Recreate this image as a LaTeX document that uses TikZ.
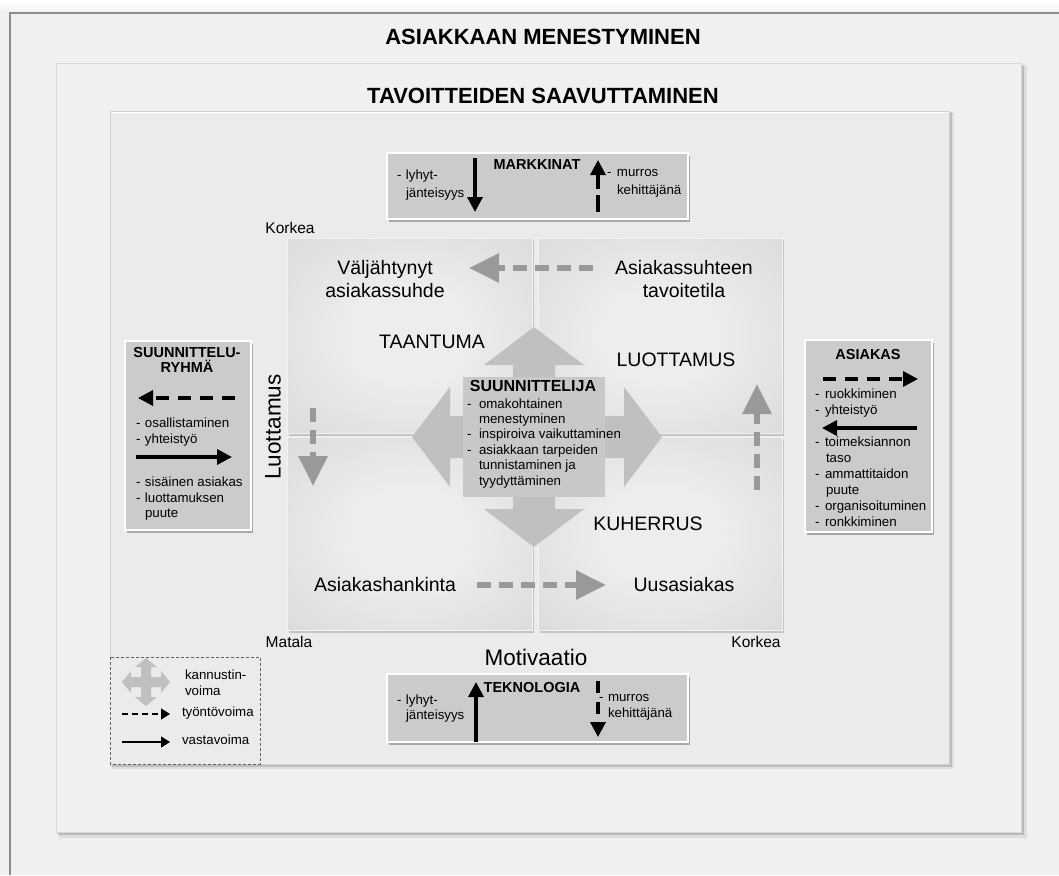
\documentclass[tikz,border=0pt]{standalone}
\usepackage{fontspec}
\setmainfont{Liberation Sans}
\usetikzlibrary{arrows.meta,shadows}

\definecolor{pagebg}{HTML}{F0F0F0}
\definecolor{innerbg}{HTML}{EBEBEB}
\definecolor{framegray}{HTML}{8C8C8C}
\definecolor{panelfill}{HTML}{CBCBCB}
\definecolor{crossfill}{HTML}{C0C0C0}
\definecolor{crossbox}{HTML}{C8C8C8}
\definecolor{flowgray}{HTML}{999999}
\definecolor{qin}{HTML}{EDEDED}
\definecolor{qout}{HTML}{BEBEBE}
\definecolor{legendline}{HTML}{6B6347}

\pgfdeclareradialshading{quadshade}{\pgfpoint{0bp}{0bp}}{color(0bp)=(qin); color(12bp)=(qin); color(75bp)=(qout)}

% list helpers: a dash in a fixed-width box, and an indented continuation line
\newcommand{\dashitem}[2][9pt]{\makebox[#1][l]{-}#2}
\newcommand{\dashcont}[2][9pt]{\hspace*{#1}#2}

\tikzset{
  every node/.style={inner sep=0pt, outer sep=0pt},
  maintitle/.style={font=\bfseries\fontsize{22}{26}\selectfont},
  quadlabel/.style={font=\fontsize{19.5}{23}\selectfont, align=center},
  axislabel/.style={font=\fontsize{22.5}{26}\selectfont},
  scalelabel/.style={font=\fontsize{15.5}{18}\selectfont},
  paneltitle/.style={font=\bfseries\fontsize{14.5}{15}\selectfont, align=center},
  listtext/.style={font=\fontsize{13.3}{16}\selectfont, align=left, anchor=north west},
  panel/.style={fill=panelfill, draw=white, line width=1.2pt,
    drop shadow={shadow xshift=2pt, shadow yshift=-2.5pt, fill=black, opacity=0.28}},
  force/.style={line width=3.4pt, -{Triangle[length=15pt,width=15pt]}},
  push/.style={force, dash pattern=on 13pt off 9pt},
  flow/.style={draw=flowgray, line width=6pt, dash pattern=on 14pt off 8pt,
    -{Triangle[length=30pt,width=28pt,fill=flowgray]}},
  legforce/.style={line width=1.6pt, -{Triangle[length=9pt,width=11pt]}},
  legpush/.style={legforce, dash pattern=on 6pt off 4pt},
}

\begin{document}
\begin{tikzpicture}[x=1pt,y=-1pt]
\useasboundingbox (0,0) rectangle (1059,875);

% page and outer frame
\fill[pagebg] (0,0) rectangle (1059,875);
\shade[top color=white, bottom color=pagebg] (0,0) rectangle (1059,13);
\draw[framegray, line width=1.5pt] (10,875) -- (10,13) -- (1059,13);
\node[maintitle] (outerTitle) at (543,37) {ASIAKKAAN MENESTYMINEN};

% middle frame
\fill[black, opacity=0.08] (59,66) rectangle (1027,838);
\fill[black, opacity=0.16] (58,65) rectangle (1024,835);
\filldraw[fill=pagebg, draw=gray!30, line width=1pt] (56,63) rectangle (1021,832);
\node[maintitle] (middleTitle) at (543,96) {TAVOITTEIDEN SAAVUTTAMINEN};

% inner frame
\fill[black, opacity=0.08] (112,113) rectangle (954,769);
\fill[black, opacity=0.14] (111,112) rectangle (952,767);
\filldraw[fill=innerbg, draw=gray!35, line width=1pt] (110,111) rectangle (949,764);
\draw[white, line width=1.5pt] (111.5,112.5) -- (947.5,112.5);

% four quadrants
\foreach \xa/\ya/\xb/\yb in {287/238/532/433, 538/238/782/433, 287/437/532/630, 538/437/782/630}{
  \fill[black, opacity=0.16] (\xa+2,\ya+2) rectangle (\xb+2,\yb+2.5);
  \shade[shading=quadshade] (\xa,\ya) rectangle (\xb,\yb);
  \draw[white!90!gray, line width=1pt] (\xa,\ya) rectangle (\xb,\yb);
}

% quadrant texts
\node[quadlabel] (stale) at (385,279) {Väljähtynyt\\asiakassuhde};
\node[quadlabel] (target) at (684,279) {Asiakassuhteen\\tavoitetila};
\node[quadlabel] (recession) at (432,342) {TAANTUMA};
\node[quadlabel] (trust) at (676,360) {LUOTTAMUS};
\node[quadlabel] (honeymoon) at (648,524) {KUHERRUS};
\node[quadlabel] (acquisition) at (385,585) {Asiakashankinta};
\node[quadlabel] (newcustomer) at (684,585) {Uusasiakas};

% axes
\node[scalelabel] (highTrust) at (290,228) {Korkea};
\node[scalelabel] (low) at (289,642) {Matala};
\node[scalelabel] (highMotivation) at (756,642) {Korkea};
\node[axislabel] (motivation) at (536,657) {Motivaatio};
\node[axislabel, rotate=90] (trustAxis) at (273,427) {Luottamus};

% gray flows between quadrants
\coordinate (flowTopTail) at (593,268);  \coordinate (flowTopTip) at (469,268);
\coordinate (flowLeftTail) at (313,408); \coordinate (flowLeftTip) at (313,486);
\coordinate (flowRightTail) at (757,490); \coordinate (flowRightTip) at (757,384);
\coordinate (flowBotTail) at (477,585);  \coordinate (flowBotTip) at (606,585);
\draw[flow] (flowTopTail) -- (flowTopTip);
\draw[flow] (flowLeftTail) -- (flowLeftTip);
\draw[flow] (flowRightTail) -- (flowRightTip);
\draw[flow] (flowBotTail) -- (flowBotTip);

% four-way driving force in the centre
\fill[crossfill] (534,327) -- (584,365) -- (555,365) -- (555,416) -- (624,416) -- (624,387)
  -- (662,437) -- (624,487) -- (624,458) -- (555,458) -- (555,509) -- (584,509)
  -- (534,547) -- (484,509) -- (513,509) -- (513,458) -- (450,458) -- (450,487)
  -- (412,437) -- (450,387) -- (450,416) -- (513,416) -- (513,365) -- (484,365) -- cycle;
\node[fill=crossbox, minimum width=142pt, minimum height=120pt] (designer) at (534,437) {};
\node[font=\bfseries\fontsize{16}{18}\selectfont] (designerTitle) at (533,386) {SUUNNITTELIJA};
\node[listtext, font=\fontsize{13.3}{15.4}\selectfont] (designerList) at (467,398.5)
  {\dashitem[12pt]{omakohtainen}\\\dashcont[12pt]{menestyminen}\\\dashitem[12pt]{inspiroiva vaikuttaminen}\\
   \dashitem[12pt]{asiakkaan tarpeiden}\\\dashcont[12pt]{tunnistaminen ja}\\\dashcont[12pt]{tyydyttäminen}};

% MARKKINAT panel
\path[panel] (387,153) rectangle (688,219);
\node[paneltitle] (markets) at (537,165) {MARKKINAT};
\node[listtext, font=\fontsize{13.3}{18}\selectfont] (marketsShort) at (397,169.5) {\dashitem{lyhyt-}\\\dashcont{jänteisyys}};
\node[listtext, font=\fontsize{13.3}{18}\selectfont] (marketsBreak) at (607,169.5) {\dashitem[10pt]{murros}\\\dashcont[10pt]{kehittäjänä}};
\coordinate (mkA) at (475,158); \coordinate (mkB) at (475,212);
\coordinate (mkC) at (598,212); \coordinate (mkD) at (598,160);
\draw[force] (mkA) -- (mkB);
\draw[push, dash pattern=on 17pt off 6pt] (mkC) -- (mkD);

% TEKNOLOGIA panel
\path[panel] (387,674) rectangle (688,742);
\node[paneltitle] (technology) at (532,687) {TEKNOLOGIA};
\node[listtext, font=\fontsize{13.3}{15.5}\selectfont] (techShort) at (397,694.5) {\dashitem{lyhyt-}\\\dashcont{jänteisyys}};
\node[listtext, font=\fontsize{13.3}{15.5}\selectfont] (techBreak) at (599,694.5) {\dashitem{murros}\\\dashcont{kehittäjänä}};
\coordinate (tkA) at (476,742); \coordinate (tkB) at (476,682);
\coordinate (tkC) at (598,681); \coordinate (tkD) at (598,737);
\draw[force] (tkA) -- (tkB);
\draw[push, dash pattern=on 12pt off 9pt] (tkC) -- (tkD);

% SUUNNITTELURYHMÄ panel
\path[panel] (125,341) rectangle (251,530);
\node[paneltitle] (team) at (187,360) {SUUNNITTELU-\\RYHMÄ};
\coordinate (tmA) at (235,398); \coordinate (tmB) at (138,398);
\draw[push] (tmA) -- (tmB);
\node[listtext] (teamPlus) at (136,418) {\dashitem{osallistaminen}\\\dashitem{yhteistyö}};
\coordinate (tmC) at (136,457); \coordinate (tmD) at (232,457);
\draw[force] (tmC) -- (tmD);
\node[listtext, font=\fontsize{13.3}{15.5}\selectfont] (teamMinus) at (136,477)
  {\dashitem{sisäinen asiakas}\\\dashitem{luottamuksen}\\\dashcont{puute}};

% ASIAKAS panel
\path[panel] (805,340) rectangle (932,532);
\node[paneltitle] (customer) at (868,355) {ASIAKAS};
\coordinate (csA) at (823,379); \coordinate (csB) at (918,379);
\draw[push] (csA) -- (csB);
\node[listtext] (customerPlus) at (815,389) {\dashitem[10pt]{ruokkiminen}\\\dashitem[10pt]{yhteistyö}};
\coordinate (csC) at (917,428); \coordinate (csD) at (822,428);
\draw[force] (csC) -- (csD);
\node[listtext] (customerMinus) at (815,437)
  {\dashitem[10pt]{toimeksiannon}\\\dashcont[11pt]{taso}\\\dashitem[10pt]{ammattitaidon}\\\dashcont[11pt]{puute}\\
   \dashitem[10pt]{organisoituminen}\\\dashitem[10pt]{ronkkiminen}};

% legend
\draw[legendline, line width=1pt, dash pattern=on 3pt off 2pt, fill=innerbg] (110,657) rectangle (260,764);
\begin{scope}[shift={(146,682)}]
  \fill[crossfill] (0,-24) -- (11,-15) -- (5,-15) -- (5,-5) -- (15,-5) -- (15,-11) -- (24,0)
    -- (15,11) -- (15,5) -- (5,5) -- (5,15) -- (11,15) -- (0,24) -- (-11,15) -- (-5,15)
    -- (-5,5) -- (-15,5) -- (-15,11) -- (-24,0) -- (-15,-11) -- (-15,-5) -- (-5,-5)
    -- (-5,-15) -- (-11,-15) -- cycle;
\end{scope}
\node[listtext, font=\fontsize{13.3}{16}\selectfont] (legendSpur) at (185,670) {kannustin-\\voima};
\coordinate (lgA) at (122,714); \coordinate (lgB) at (170,714);
\coordinate (lgC) at (122,742); \coordinate (lgD) at (170,742);
\draw[legpush] (lgA) -- (lgB);
\draw[legforce] (lgC) -- (lgD);
\node[font=\fontsize{13.3}{15}\selectfont, anchor=west] (legendPush) at (182,713) {työntövoima};
\node[font=\fontsize{13.3}{15}\selectfont, anchor=west] (legendCounter) at (182,740) {vastavoima};
\end{tikzpicture}
\end{document}
